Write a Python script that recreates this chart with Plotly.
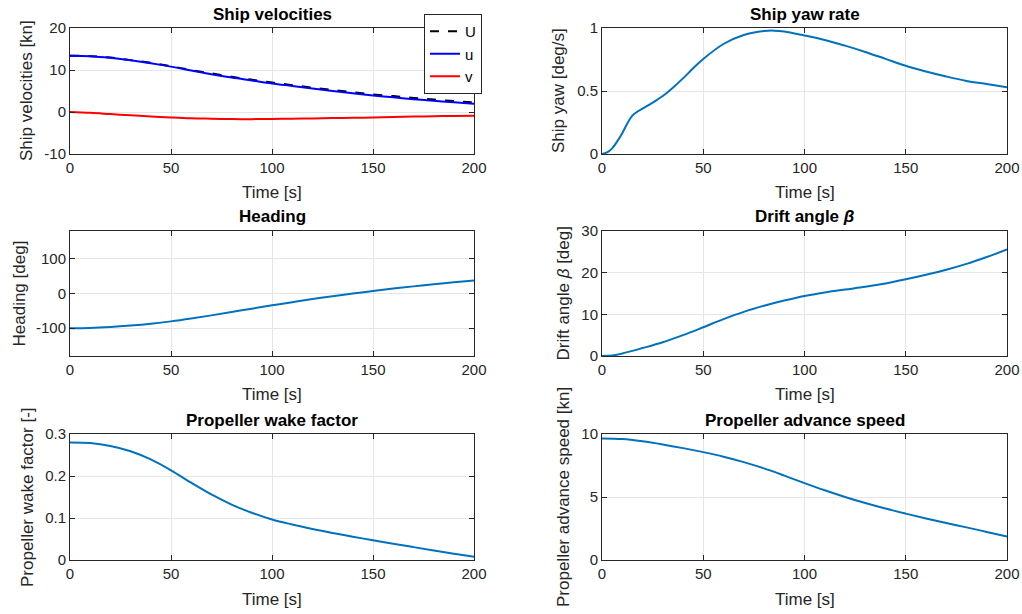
import plotly.graph_objects as go

W, H = 1022, 614

# ---------------- data ----------------
t = [0, 10, 20, 30, 40, 50, 60, 70, 80, 90, 100, 110, 120, 130, 140, 150, 160, 170, 180, 190, 200]

U_tot = [13.4, 13.3, 12.95, 12.35, 11.7, 10.9, 10.0, 9.2, 8.4, 7.7, 7.0, 6.4, 5.8, 5.25, 4.7, 4.2, 3.8, 3.35, 2.95, 2.6, 2.3]
u_surge = [13.4, 13.3, 12.9, 12.3, 11.6, 10.8, 9.9, 9.0, 8.2, 7.5, 6.8, 6.2, 5.6, 5.0, 4.45, 3.95, 3.5, 3.05, 2.65, 2.3, 1.95]
v_sway = [0.0, -0.2, -0.5, -0.8, -1.05, -1.3, -1.5, -1.6, -1.68, -1.7, -1.65, -1.6, -1.52, -1.45, -1.38, -1.3, -1.2, -1.1, -1.0, -0.95, -0.9]

t_yaw = [0, 2.5, 5, 7.5, 10, 12.5, 15, 17.5, 20, 25, 30, 35, 40, 45, 50, 60, 70, 80, 85, 90, 100, 110, 120, 130, 140, 150, 160, 170, 180, 190, 200]
yaw_rate = [0.0, 0.012, 0.045, 0.1, 0.165, 0.243, 0.305, 0.336, 0.36, 0.407, 0.46, 0.526, 0.6, 0.68, 0.754, 0.873, 0.944, 0.976, 0.979, 0.972, 0.94, 0.905, 0.86, 0.81, 0.755, 0.70, 0.655, 0.615, 0.58, 0.555, 0.53]

heading = [-100, -99.3, -96.5, -92.4, -87.1, -80.3, -72.1, -63.0, -53.4, -43.7, -34.1, -24.9, -16.1, -7.8, 0.0, 7.3, 14.2, 20.5, 26.5, 32.2, 37.6]

t_drift = [0, 5, 10, 20, 30, 40, 50, 60, 70, 80, 90, 100, 110, 120, 130, 140, 150, 160, 170, 180, 190, 200]
drift = [0.0, 0.1, 0.6, 1.9, 3.3, 5.0, 6.9, 8.85, 10.6, 12.05, 13.3, 14.4, 15.25, 15.95, 16.6, 17.4, 18.4, 19.5, 20.7, 22.1, 23.75, 25.6]

wake = [0.28, 0.2785, 0.2715, 0.259, 0.2395, 0.2135, 0.184, 0.156, 0.132, 0.1125, 0.0965, 0.0845, 0.074, 0.0645, 0.0555, 0.047, 0.0388, 0.0307, 0.0227, 0.015, 0.008]

adv_speed = [9.65, 9.6, 9.42, 9.17, 8.88, 8.56, 8.2, 7.77, 7.27, 6.7, 6.1, 5.53, 5.0, 4.52, 4.08, 3.68, 3.3, 2.94, 2.59, 2.23, 1.87]

x_ticks = [0, 50, 100, 150, 200]
titles = ["Ship velocities", "Ship yaw rate", "Heading", "Drift angle <i>β</i>",
          "Propeller wake factor", "Propeller advance speed"]
ylabels = ["Ship velocities [kn]", "Ship yaw [deg/s]", "Heading [deg]", "Drift angle <i>β</i> [deg]",
           "Propeller wake factor [-]", "Propeller advance speed [kn]"]
y_ranges = [[-10, 20], [0, 1], [-180, 180], [0, 30], [0, 0.3], [0, 10]]
y_tickvals = [[-10, 0, 10, 20], [0, 0.5, 1], [-100, 0, 100], [0, 10, 20, 30], [0, 0.1, 0.2, 0.3], [0, 5, 10]]
y_ticktext = [["-10", "0", "10", "20"], ["0", "0.5", "1"], ["-100", "0", "100"], ["0", "10", "20", "30"],
              ["0", "0.1", "0.2", "0.3"], ["0", "5", "10"]]

# ---------------- layout geometry (pixels) ----------------
col_x = [(70, 474), (602, 1007)]
row_y = [(28, 154), (231, 356), (434, 560)]
ylab_x = [26, 558, 19, 563, 27, 563]

MATLAB_BLUE = "#0072BD"
AX = "#262626"
GRID = "#e6e6e6"
FONT = "Liberation Sans, Arial, sans-serif"

fig = go.Figure()

def ax_name(i, kind):
    return f"{kind}{'' if i == 1 else i}"

traces = [
    (1, t, U_tot, dict(color="black", width=2, dash="dash"), "U", True),
    (1, t, u_surge, dict(color="#0000FF", width=2), "u", True),
    (1, t, v_sway, dict(color="#FF0000", width=2), "v", True),
    (2, t_yaw, yaw_rate, dict(color=MATLAB_BLUE, width=2), "r", False),
    (3, t, heading, dict(color=MATLAB_BLUE, width=2), "psi", False),
    (4, t_drift, drift, dict(color=MATLAB_BLUE, width=2), "beta", False),
    (5, t, wake, dict(color=MATLAB_BLUE, width=2), "w", False),
    (6, t, adv_speed, dict(color=MATLAB_BLUE, width=2), "ua", False),
]
for i, xs, ys, ln, name, show in traces:
    fig.add_trace(go.Scatter(x=xs, y=ys, mode="lines", line=dict(shape="spline", smoothing=1.0, **ln),
                             name=name, showlegend=show,
                             xaxis=ax_name(i, "x"), yaxis=ax_name(i, "y")))

layout = dict(
    width=W, height=H,
    margin=dict(l=0, r=0, t=0, b=0, autoexpand=False),
    paper_bgcolor="white", plot_bgcolor="white",
    font=dict(family=FONT, size=15, color=AX),
    legend=dict(x=424 / W, y=1 - 14 / H, xanchor="left", yanchor="top",
                bgcolor="white", bordercolor=AX, borderwidth=1,
                font=dict(size=15, color="black"), tracegroupgap=0, itemwidth=30),
)
annotations = []
for k in range(6):
    i = k + 1
    r, c = k // 2, k % 2
    x0, x1 = col_x[c]
    y0, y1 = row_y[r]
    common = dict(showline=True, linecolor=AX, linewidth=1, mirror="ticks",
                  ticks="inside", ticklen=5, tickcolor=AX, automargin=False,
                  showgrid=True, gridcolor=GRID, gridwidth=1, zeroline=False,
                  tickfont=dict(size=15, color=AX, family=FONT))
    layout[f"xaxis{'' if i == 1 else i}"] = dict(
        domain=[x0 / W, x1 / W], anchor=ax_name(i, "y"), range=[0, 200],
        tickvals=x_ticks, ticktext=[str(v) for v in x_ticks], **common)
    layout[f"yaxis{'' if i == 1 else i}"] = dict(
        domain=[1 - y1 / H, 1 - y0 / H], anchor=ax_name(i, "x"), range=y_ranges[k],
        tickvals=y_tickvals[k], ticktext=y_ticktext[k], **common)
    # title
    annotations.append(dict(text=f"<b>{titles[k]}</b>", x=(x0 + x1) / 2 / W, y=1 - (y0 - 14) / H,
                            xref="paper", yref="paper", showarrow=False,
                            font=dict(size=17, color="black", family=FONT),
                            xanchor="center", yanchor="middle"))
    # x label
    annotations.append(dict(text="Time [s]", x=(x0 + x1) / 2 / W, y=1 - (y1 + 39) / H,
                            xref="paper", yref="paper", showarrow=False,
                            font=dict(size=17, color=AX, family=FONT),
                            xanchor="center", yanchor="middle"))
    # y label
    annotations.append(dict(text=ylabels[k], x=ylab_x[k] / W, y=1 - (y0 + y1) / 2 / H,
                            xref="paper", yref="paper", showarrow=False, textangle=-90,
                            font=dict(size=17, color=AX, family=FONT),
                            xanchor="center", yanchor="middle"))
layout["annotations"] = annotations
fig.update_layout(**layout)

fig.write_html("out.html", config={"displayModeBar": False},
               post_script="document.body.style.margin='0';document.body.style.padding='0';")
